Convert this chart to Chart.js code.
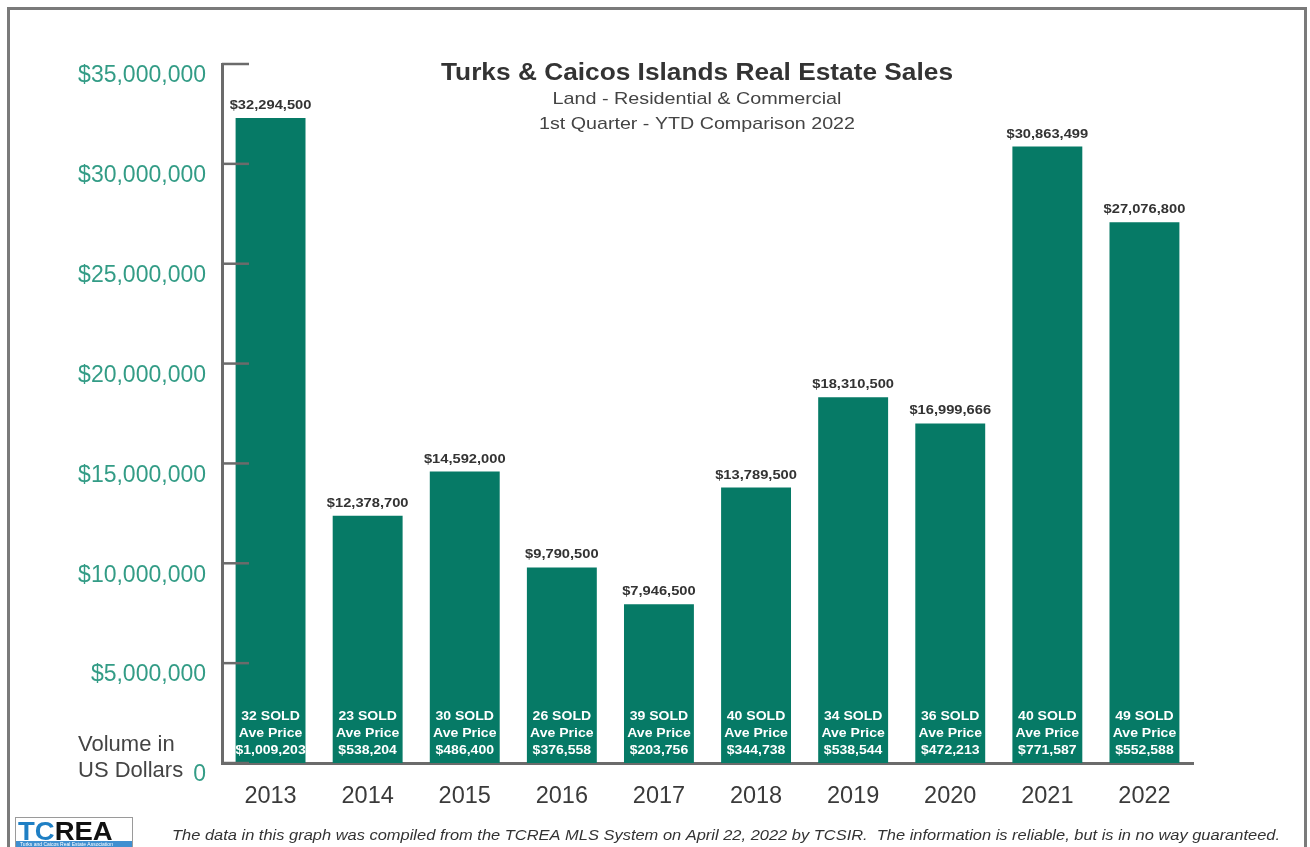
<!DOCTYPE html>
<html>
<head>
<meta charset="utf-8">
<title>Turks & Caicos Islands Real Estate Sales</title>
<script src="https://cdn.jsdelivr.net/npm/chart.js@4.4.0/dist/chart.umd.min.js"></script>
<style>
  html, body { margin: 0; padding: 0; background: #fff; }
  #wrap { width: 1310px; height: 847px; }
</style>
</head>
<body>
<div id="wrap"><canvas id="salesChart" width="1310" height="847"></canvas></div>
<script>
const years = ['2013', '2014', '2015', '2016', '2017', '2018', '2019', '2020', '2021', '2022'];
const volumes = [32294500, 12378700, 14592000, 9790500, 7946500, 13789500, 18310500, 16999666, 30863499, 27076800];
const soldCounts = [32, 23, 30, 26, 39, 40, 34, 36, 40, 49];
const avePrices = [1009203, 538204, 486400, 376558, 203756, 344738, 538544, 472213, 771587, 552588];

const TEAL = '#067a66';
const TICK_TEAL = '#339c86';
const AXIS_GREY = '#6b6b6b';
const FONT = '"Liberation Sans", Arial, sans-serif';

const money = v => '$' + v.toLocaleString('en-US');

// text stretched sideways (the source image is a bit wide)
function wideText(c, text, x, y, sx) {
    c.save();
    c.translate(x, y);
    c.scale(sx, 1);
    c.fillText(text, 0, 0);
    c.restore();
}
// text squeezed/stretched to a given width
function fitText(c, text, x, y, w) {
    wideText(c, text, x, y, w / c.measureText(text).width);
}

const decorations = {
    id: 'decorations',
    beforeDraw(chart) {
        const c = chart.ctx;
        c.save();
        c.fillStyle = '#fff';
        c.fillRect(0, 0, chart.width, chart.height);
        c.strokeStyle = '#7a7a7a';
        c.lineWidth = 3;
        c.strokeRect(8.5, 8.5, 1297, 900);
        c.restore();
    },
    afterDatasetsDraw(chart) {
        const c = chart.ctx;
        const y = chart.scales.y;
        const area = chart.chartArea;
        c.save();

        // tick marks pointing into the plot
        c.strokeStyle = AXIS_GREY;
        c.lineWidth = 2.5;
        y.ticks.forEach(t => {
            const py = y.getPixelForValue(t.value);
            c.beginPath();
            c.moveTo(area.left, py);
            c.lineTo(area.left + 27, py);
            c.stroke();
        });

        const meta = chart.getDatasetMeta(0);
        meta.data.forEach((bar, i) => {
            c.textAlign = 'center';
            c.fillStyle = '#333';
            c.font = 'bold 13px ' + FONT;
            c.textBaseline = 'alphabetic';
            wideText(c, money(volumes[i]), bar.x, bar.y - 9, 1.13);

            c.fillStyle = '#fff';
            c.font = 'bold 13px ' + FONT;
            c.textBaseline = 'middle';
            wideText(c, soldCounts[i] + ' SOLD', bar.x, 716, 1.08);
            wideText(c, 'Ave Price', bar.x, 733, 1.08);
            wideText(c, money(avePrices[i]), bar.x, 750, 1.08);
        });

        // titles
        c.textAlign = 'center';
        c.textBaseline = 'middle';
        c.fillStyle = '#333';
        c.font = 'bold 23px ' + FONT;
        fitText(c, 'Turks & Caicos Islands Real Estate Sales', 697, 74, 512);
        c.fillStyle = '#444';
        c.font = '17px ' + FONT;
        fitText(c, 'Land - Residential & Commercial', 697, 99, 289);
        fitText(c, '1st Quarter - YTD Comparison 2022', 697, 124, 316);

        // axis caption
        c.textAlign = 'left';
        c.font = '22px ' + FONT;
        c.fillStyle = '#444';
        c.fillText('Volume in', 78, 745);
        c.fillText('US Dollars', 78, 771);

        // footer
        c.font = 'italic 15px ' + FONT;
        c.fillStyle = '#333';
        fitText(c, 'The data in this graph was compiled from the TCREA MLS System on April 22, 2022 by TCSIR.  The information is reliable, but is in no way guaranteed.', 172, 836, 1108);

        // logo
        c.strokeStyle = '#9a9a9a';
        c.lineWidth = 1;
        c.strokeRect(15.5, 817.5, 117, 32);
        c.font = 'bold 25px ' + FONT;
        c.textBaseline = 'alphabetic';
        c.fillStyle = '#1f7fc4';
        wideText(c, 'TC', 18, 840, 1.1);
        const tcW = c.measureText('TC').width * 1.1;
        c.fillStyle = '#111';
        wideText(c, 'REA', 18 + tcW, 840, 1.1);
        c.fillStyle = '#3f8fd0';
        c.fillRect(16, 841, 116, 6);
        c.fillStyle = '#fff';
        c.font = '5px ' + FONT;
        c.fillText('Turks and Caicos Real Estate Association', 20, 846);

        c.restore();
    }
};

new Chart(document.getElementById('salesChart'), {
    type: 'bar',
    data: {
        labels: years,
        datasets: [{
            data: volumes,
            backgroundColor: TEAL,
            borderWidth: 0,
            barPercentage: 0.72,
            categoryPercentage: 1.0
        }]
    },
    options: {
        responsive: false,
        animation: false,
        devicePixelRatio: 1,
        layout: { padding: { top: 64, left: 0, right: 117, bottom: 0 } },
        plugins: {
            legend: { display: false },
            tooltip: { enabled: false }
        },
        scales: {
            x: {
                grid: { display: false, drawTicks: false },
                border: { display: true, color: AXIS_GREY, width: 3 },
                ticks: {
                    color: '#3a3a3a',
                    font: { family: FONT, size: 23.5 },
                    padding: 19,
                    maxRotation: 0
                },
                afterFit: s => { s.height = 84; }
            },
            y: {
                min: 0,
                max: 35000000,
                grid: { display: false, drawTicks: false },
                border: { display: true, color: AXIS_GREY, width: 3 },
                ticks: {
                    stepSize: 5000000,
                    color: TICK_TEAL,
                    font: { family: FONT, size: 23 },
                    padding: 16,
                    labelOffset: 12,
                    callback: v => v === 0 ? '0' : money(v)
                },
                afterFit: s => { s.width = 222; }
            }
        }
    },
    plugins: [decorations]
});
</script>
</body>
</html>
